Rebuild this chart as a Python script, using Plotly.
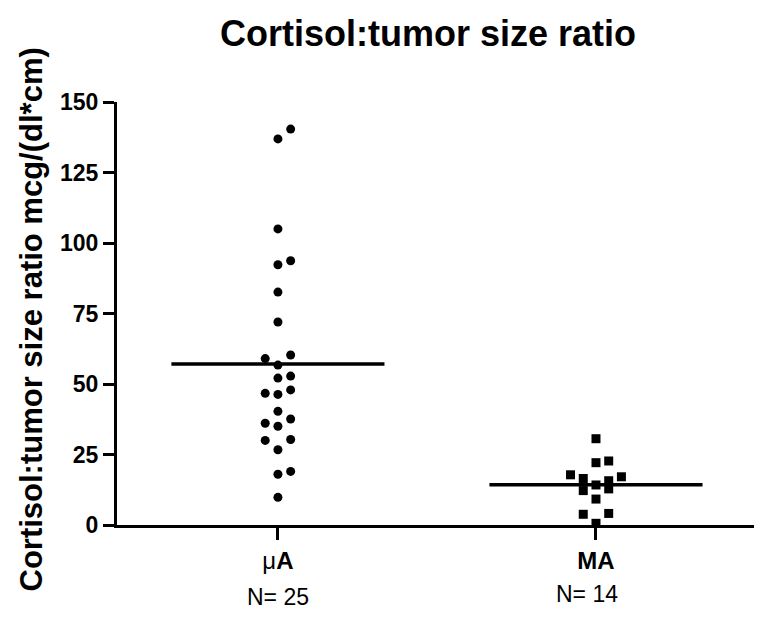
import numpy as np
import plotly.graph_objects as go

# ---------------- data ----------------
groups = ["μ<b>A</b>", "<b>MA</b>"]
n_labels = ["N= 25", "N= 14"]
ua_values = [140.4, 136.9, 105.0, 93.7, 92.3, 82.6, 72.0, 60.3, 59.0, 56.7,
             52.8, 52.1, 47.9, 46.7, 46.3, 40.3, 37.6, 36.1, 35.0, 30.3,
             30.0, 26.7, 19.0, 18.0, 9.8]
ma_values = [30.6, 22.7, 22.1, 17.8, 17.1, 16.5, 15.7, 14.2, 12.8, 12.2,
             9.2, 4.1, 3.8, 0.6]
y_ticks = [0, 25, 50, 75, 100, 125, 150]
title_text = "Cortisol:tumor size ratio"
y_title = "Cortisol:tumor size ratio mcg/(dl*cm)"

# ---------------- layout helpers ----------------
FONT = "Liberation Sans, Arial, Helvetica, sans-serif"
PATTERNS = {1: [0], 2: [0, 1], 3: [0, -1, 1], 4: [1, -1, 2, -2], 5: [0, 1, -1, 2, -2]}
SLOT = 0.04      # horizontal spacing of dot columns (category units)
WINDOW = 4.5     # values closer than this share a row
HALF_LINE = 0.335
PAGE_PAD = 8     # default body margin of the html page
W, H = 762 - PAGE_PAD, 627 - PAGE_PAD


def swarm_offsets(values):
    v = np.asarray(values, dtype=float)
    order = np.argsort(v, kind="stable")
    off = np.zeros(len(v))
    i = 0
    n = len(v)
    while i < n:
        j = i
        while j + 1 < n and v[order[j + 1]] - v[order[i]] < WINDOW:
            j += 1
        k = j - i + 1
        pat = PATTERNS.get(k, [((-1) ** m) * ((m + 1) // 2) for m in range(k)])
        for m, idx in enumerate(order[i:j + 1]):
            off[idx] = pat[m]
        i = j + 1
    return off * SLOT


fig = go.Figure()
series = [(ua_values, "circle", 9), (ma_values, "square", 9)]
for ci, (vals, sym, sz) in enumerate(series):
    xs = ci + swarm_offsets(vals)
    fig.add_trace(go.Scatter(
        x=xs, y=vals, mode="markers",
        marker=dict(symbol=sym, size=sz, color="black", line=dict(width=0)),
        cliponaxis=False, showlegend=False, hoverinfo="y"))
    m = float(np.mean(vals))
    fig.add_trace(go.Scatter(
        x=[ci - HALF_LINE, ci + HALF_LINE], y=[m, m], mode="lines",
        line=dict(color="black", width=3.5), showlegend=False, hoverinfo="skip"))

annotations = []
shifts = [(0, 0), (-9, 3)]
for ci, lab in enumerate(n_labels):
    annotations.append(dict(
        x=ci, xref="x", y=-0.170, yref="paper", text=lab, showarrow=False,
        xanchor="center", yanchor="middle", xshift=shifts[ci][0], yshift=shifts[ci][1],
        font=dict(family=FONT, size=23, color="black")))
annotations.append(dict(
    x=0, xref="paper", xshift=-86, y=0.5, yref="paper", yshift=-6,
    text="<b>" + y_title + "</b>",
    textangle=-90, showarrow=False, xanchor="center", yanchor="middle",
    font=dict(family=FONT, size=31, color="black")))

fig.update_layout(
    width=W, height=H,
    margin=dict(l=117 - PAGE_PAD, r=7, t=102 - PAGE_PAD, b=102, autoexpand=False),
    paper_bgcolor="white", plot_bgcolor="white",
    title=dict(text="<b>" + title_text + "</b>", x=(428 - PAGE_PAD) / W, xref="container",
               xanchor="center", y=1 - (33 - PAGE_PAD) / H, yref="container", yanchor="middle",
               font=dict(family=FONT, size=36, color="black")),
    annotations=annotations,
    xaxis=dict(range=[-0.506, 1.5], tickvals=[0, 1], ticktext=groups,
               showgrid=False, zeroline=False, showline=True, linecolor="black",
               linewidth=3, ticks="outside", ticklen=12, tickwidth=3, tickcolor="black",
               ticklabelstandoff=0,
               tickfont=dict(family=FONT, size=24, color="black")),
    yaxis=dict(range=[0, 150], tickvals=y_ticks,
               ticktext=["<b>%d</b>" % t for t in y_ticks],
               showgrid=False, zeroline=False,
               showline=True, linecolor="black", linewidth=3, ticks="outside",
               ticklen=11, tickwidth=3, tickcolor="black",
               tickfont=dict(family=FONT, size=23, color="black")),
)
fig.write_html("out.html")
